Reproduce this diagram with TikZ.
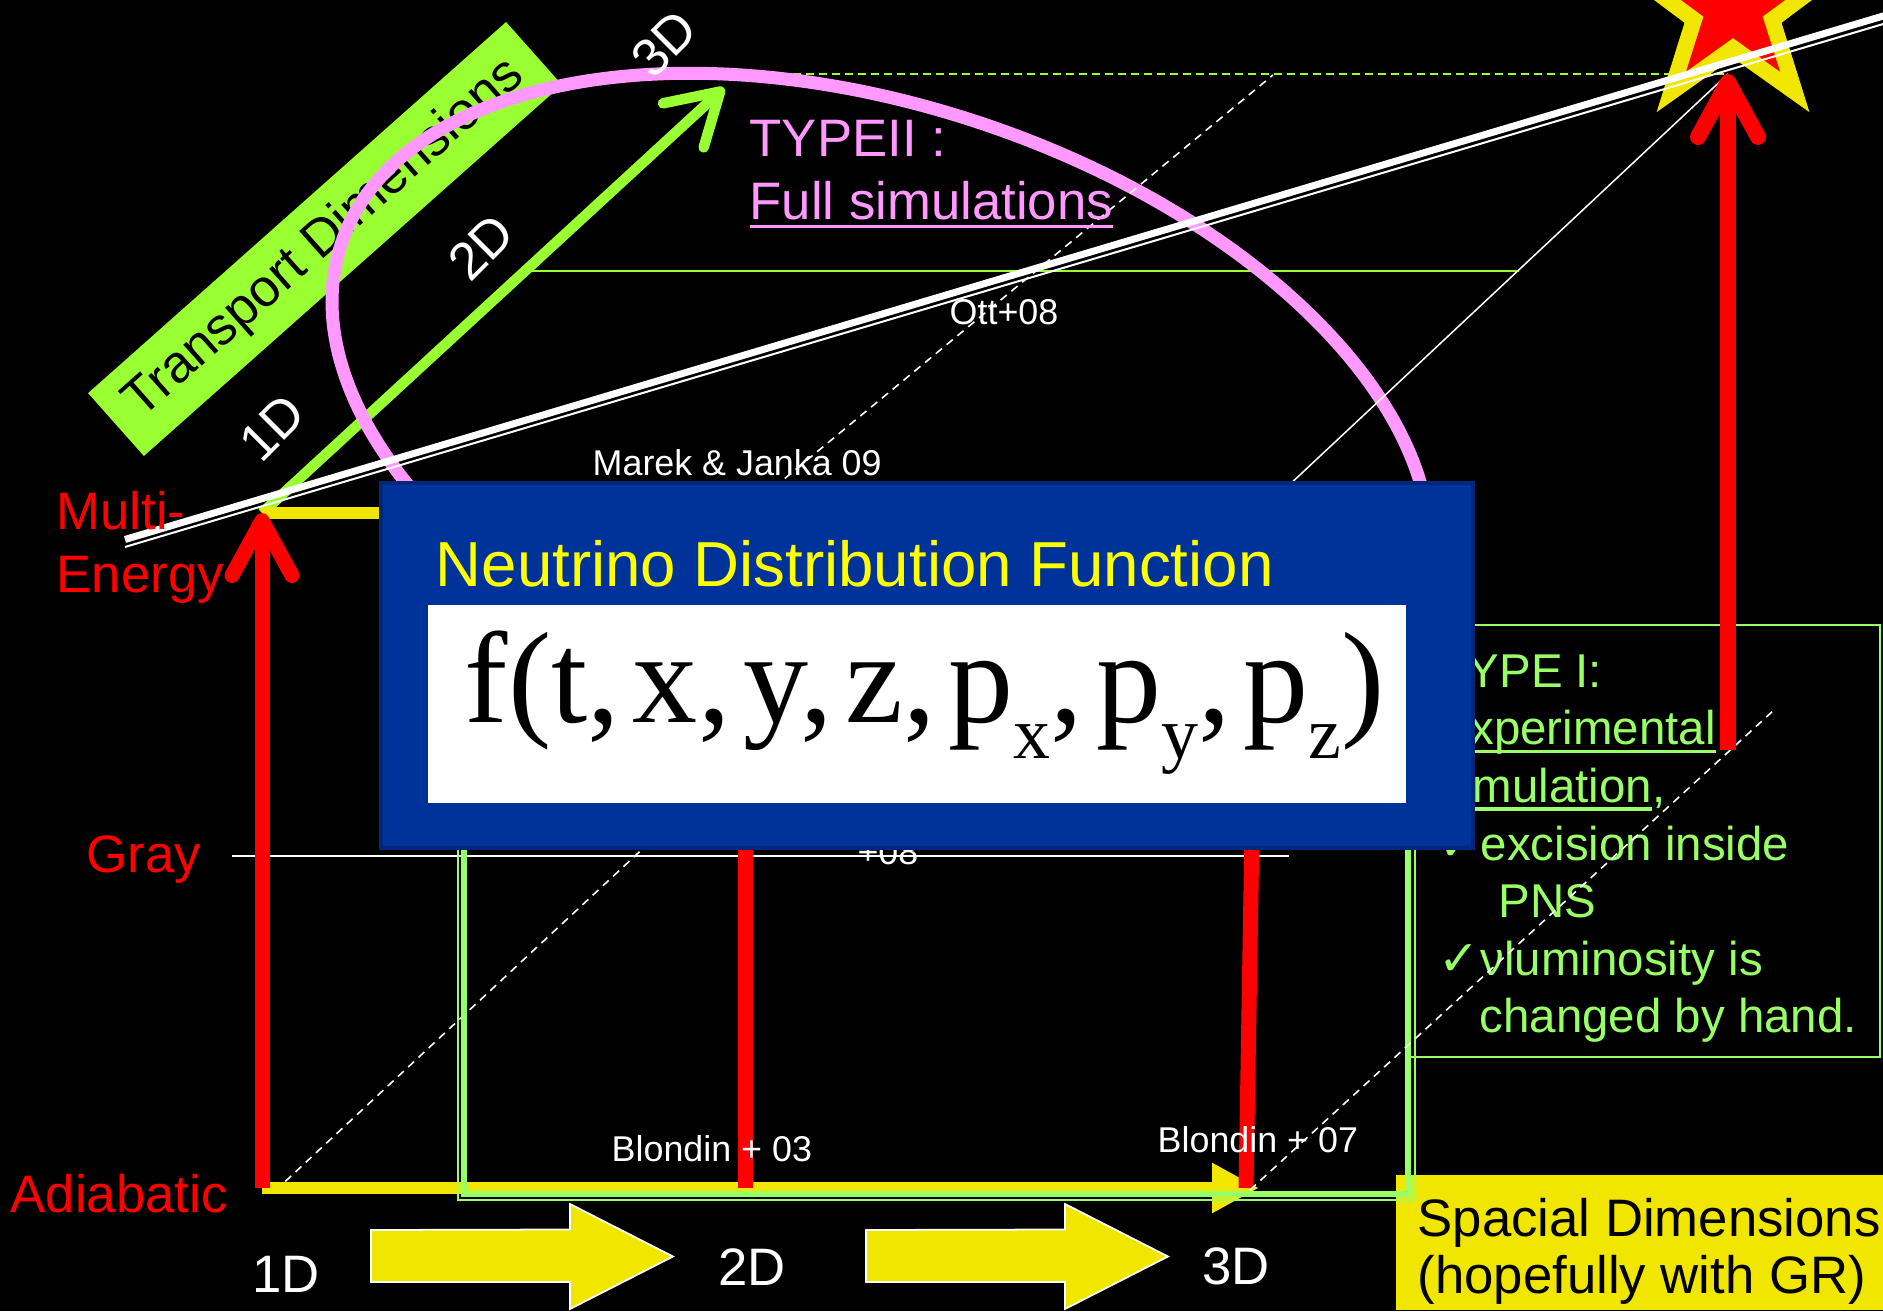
\documentclass[tikz,border=0pt]{standalone}
\usepackage{fontspec}
\setmainfont{Liberation Sans}
\newfontfamily\serifface{Liberation Serif}
\newfontfamily\tickface{DejaVu Sans}
\usetikzlibrary{arrows.meta,shapes.geometric}
\definecolor{axred}{HTML}{FF0000}
\definecolor{lime}{HTML}{99FF33}
\definecolor{lgreen}{HTML}{99FF66}
\definecolor{yel}{HTML}{F0E600}
\definecolor{titleyel}{HTML}{FFFF00}
\definecolor{pinkish}{HTML}{FF99FF}
\definecolor{boxblue}{HTML}{003399}
\definecolor{boxbd}{HTML}{00277A}
\newsavebox\ulbox
\newcommand\ulsimple[1]{\sbox\ulbox{#1}\rlap{\rule[-2.3pt]{\wd\ulbox}{0.9pt}}\usebox\ulbox}
\newcommand\tick{\makebox[0.42cm][l]{\tickface\fontsize{14}{14}\selectfont ✓}}
\newcommand\psub[1]{p\raisebox{-0.27em}{\fontsize{21}{21}\selectfont #1}}
\newcommand\fsep{,\kern0.1em}
\tikzset{
  redlbl/.style={font=\fontsize{15}{18}\selectfont,text=axred,inner sep=0pt,anchor=base west},
  dimlbl/.style={font=\fontsize{15}{18}\selectfont,text=white,inner sep=0pt},
  reflbl/.style={font=\fontsize{10.2}{12}\selectfont,text=white,inner sep=0pt,anchor=base west},
  pinklbl/.style={font=\fontsize{15}{18}\selectfont,text=pinkish,inner sep=0pt,anchor=base west},
  redarrow/.style={axred,line width=1.5mm,-{Straight Barb[length=5.5mm,width=6mm,round]}},
  redline/.style={axred,line width=1.5mm},
  greenarrow/.style={lime,line width=1.05mm,-{Straight Barb[length=5mm,width=6mm,round]}},
  yelline/.style={yel,line width=1.2mm},
  guide/.style={white,line width=0.45pt,dash pattern=on 0.8mm off 0.6mm},
  blockarrow/.style={fill=yel,draw=white,line width=0.5pt},
  pinkring/.style={pinkish,line width=1.3mm},
  boom/.style={star,star points=5,inner sep=0pt},
}

\begin{document}
\begin{tikzpicture}
  \useasboundingbox (0,0) rectangle (18.83,13.11);
  \clip (0,0) rectangle (18.83,13.11);
  \fill[black] (0,0) rectangle (18.83,13.11);

  % corners of the cube
  \coordinate (a1) at (2.62,1.23);    % adiabatic, 1D
  \coordinate (a2) at (7.45,1.23);    % adiabatic, 2D
  \coordinate (a3) at (12.46,1.23);   % adiabatic, 3D
  \coordinate (a3tip) at (12.59,1.23);
  \coordinate (m1) at (2.62,7.98);    % multi-energy, 1D
  \coordinate (t3) at (7.24,12.23);   % transport 3D
  \coordinate (sn) at (17.28,12.37);  % everything 3D

  % transport dimensions tag
  \node[fill=lime,rotate=41.6,minimum width=5.59cm,minimum height=0.84cm,
        inner sep=0pt,font=\fontsize{15}{16}\selectfont] (tdim)
        at (3.25,10.72) {Transport Dimensions};

  % green levels
  \draw[lime,line width=0.6pt] (5.31,10.40) -- (15.19,10.40);
  \draw[lime,line width=0.6pt,dash pattern=on 0.8mm off 0.5mm] (7.15,12.37) -- (sn);
  \draw[greenarrow] (m1) -- (t3);

  % TYPE II ring
  \draw[pinkring,rotate around={-18.5:(8.81,8.87)}]
    (8.81,8.87) ellipse [x radius=5.69,y radius=3.17];

  % star
  \node[boom,star point ratio=2.55,minimum size=2.6cm,fill=yel] (star) at (17.33,13.04) {};
  \node[boom,star point ratio=2.58,minimum size=1.6cm,fill=axred] (starin) at (star.center) {};

  % multi-energy plane (double white)
  \draw[white,line width=0.07cm] (1.25,7.715) -- (18.9,12.97);
  \draw[white,line width=0.02cm] (1.25,7.64) -- (18.9,12.89);
  \draw[white,line width=0.015cm] (11.92,7.35) -- (sn);
  % gray level
  \draw[white,line width=0.02cm] (2.32,4.55) -- (12.89,4.55);

  % depth edges
  \draw[guide] (2.75,1.20) -- (7.37,5.50);
  \draw[guide] (7.20,7.79) -- (12.73,12.36);

  % spatial axis
  \draw[yelline,-{Triangle[length=4.7mm,width=4.7mm]}] (a1) -- (a3tip);
  \draw[yelline] (m1) -- (4.2,7.98);
  \draw[redline] (a2) -- (7.45,6.0);
  \draw[redline] (a3) -- (12.54,6.0);
  \draw[redarrow] (a1) -- (m1);

  % spatial dimensions tag
  \node[fill=yel,anchor=south west,minimum width=4.88cm,minimum height=1.35cm,
        inner sep=0pt] (spbox) at (13.95,0) {};
  \node[font=\fontsize{15}{18}\selectfont,inner sep=0pt,anchor=base west] (sp1)
    at (14.17,0.74) {Spacial Dimensions};
  \node[font=\fontsize{15}{18}\selectfont,inner sep=0pt,anchor=base west] (sp2)
    at (14.17,0.18) {(hopefully with GR)};

  % TYPE I region
  \draw[lgreen,line width=0.06cm] (4.64,1.17) rectangle (14.08,6.0);
  \draw[lgreen,line width=0.015cm] (4.58,1.11) rectangle (14.15,6.0);
  \draw[lgreen,line width=0.02cm] (14.10,2.54) rectangle (18.80,6.86);
  % base of a multi-line node = last line
  \node[font=\fontsize{13.5}{16.4}\selectfont,text=lgreen,inner sep=0pt,
        anchor=base west,align=left] (typ1) at (14.38,2.78)
    {TYPE I:\\\ulsimple{Experimental}\\\ulsimple{simulation},\\\tick excision inside\\
     \hspace*{0.6cm}PNS\\\tick νluminosity is\\\hspace*{0.41cm}changed by hand.};
  \draw[guide] (12.50,1.21) -- (17.74,6.01);

  \draw[redarrow,line width=1.6mm] (17.28,5.61) -- (sn);

  % block arrows 1D -> 2D -> 3D
  \foreach \x in {3.71,8.66}{
    \draw[blockarrow] (\x,0.29) -- ++(1.99,0) -- ++(0,-0.27) -- ++(1.03,0.525)
      -- ++(-1.03,0.525) -- ++(0,-0.255) -- (\x,0.81) -- cycle;
  }

  % axis labels
  \node[redlbl] (multi) at (0.56,7.81) {Multi-};
  \node[redlbl] (energy) at (0.56,7.18) {Energy};
  \node[redlbl] (gray) at (0.86,4.38) {Gray};
  \node[redlbl] (adiab) at (0.10,0.98) {Adiabatic};
  \node[dimlbl,anchor=base] (x1) at (2.86,0.19) {1D};
  \node[dimlbl,anchor=base] (x2) at (7.52,0.26) {2D};
  \node[dimlbl,anchor=base] (x3) at (12.36,0.27) {3D};
  \node[dimlbl,rotate=45] (z1) at (2.72,8.83) {1D};
  \node[dimlbl,rotate=45] (z2) at (4.81,10.64) {2D};
  \node[dimlbl,rotate=45] (z3) at (6.64,12.67) {3D};
  \node[pinklbl] (typ2) at (7.49,11.54) {TYPEII :};
  \node[pinklbl] (full) at (7.49,10.91) {\ulsimple{Full simulations}};

  % references
  \node[reflbl] (marek) at (5.92,8.35) {Marek \& Janka 09};
  \node[reflbl] (ott) at (9.49,9.86) {Ott+08};
  \node[reflbl,anchor=base east] (gray08) at (9.19,4.46) {+08};
  \node[reflbl] (bl03) at (6.11,1.49) {Blondin + 03};
  \node[reflbl] (bl07) at (11.57,1.59) {Blondin + 07};

  % distribution function panel
  \node[fill=boxblue,draw=boxbd,line width=1.2pt,minimum width=10.92cm,
        minimum height=3.65cm,inner sep=0pt] (ndf) at (9.27,6.455) {};
  \node[fill=white,minimum width=9.78cm,minimum height=1.98cm,inner sep=0pt]
    (fbox) at (9.17,6.07) {};
  \node[anchor=base west,inner sep=0pt,text=titleyel,
        font=\fontsize{18.1}{20}\selectfont] (ttl) at (4.35,7.24)
    {Neutrino Distribution Function};
  \node[anchor=base west,inner sep=0pt,font={\serifface\fontsize{37}{40}\selectfont}]
    (fx) at (4.64,5.88) {f(t\fsep x\fsep y\fsep z\fsep\psub{x}\fsep\psub{y}\fsep\psub{z})};
\end{tikzpicture}
\end{document}
